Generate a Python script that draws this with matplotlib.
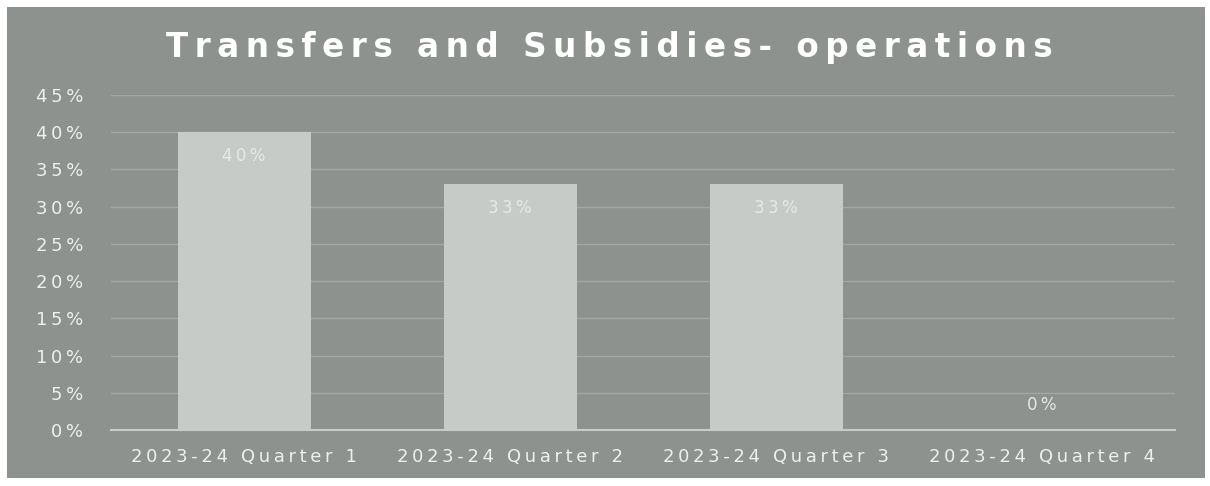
import matplotlib.pyplot as plt
from matplotlib.patches import Rectangle

quarters = ["2023-24 Quarter 1", "2023-24 Quarter 2", "2023-24 Quarter 3", "2023-24 Quarter 4"]
values = [40, 33, 33, 0]
labels = ["40%", "33%", "33%", "0%"]
y_ticks = [0, 5, 10, 15, 20, 25, 30, 35, 40, 45]
y_labels = ["0%", "5%", "10%", "15%", "20%", "25%", "30%", "35%", "40%", "45%"]
title = "Transfers and Subsidies- operations"

BG = "#8d928e"
BAR = "#c6cbc7"
TXT = "#eef0ee"

plt.rcParams['font.family'] = ['DejaVu Sans']


def spaced(s, gap="\u2009"):
    # the original has wide letter tracking
    return gap.join(s)


fig = plt.figure(figsize=(12.1, 4.86), dpi=100, facecolor="white")
fig.patches.append(Rectangle((7 / 1210, 1 - 478 / 486), 1198 / 1210, 471 / 486,
                             transform=fig.transFigure, facecolor=BG, edgecolor="none", zorder=-5))

ax = fig.add_axes([111 / 1210, 1 - 430 / 486, 1064 / 1210, 335 / 486])
ax.set_facecolor("none")

x = range(len(quarters))
bars = ax.bar(x, values, width=0.5, color=BAR, zorder=3)

for i, (v, lab) in enumerate(zip(values, labels)):
    ypos = v - 3.2 if v > 3 else v + 3.4
    ax.text(i, ypos, spaced(lab), ha="center", va="center",
            color="#e6eae6", fontsize=12, zorder=4)

ax.set_ylim(0, 45)
ax.set_xlim(-0.5, 3.5)
ax.set_yticks(y_ticks)
ax.set_yticklabels([spaced(t) for t in y_labels])
ax.set_xticks(list(x))
ax.set_xticklabels([spaced(q) for q in quarters])
ax.tick_params(axis="both", length=0, colors=TXT, labelsize=13)
ax.tick_params(axis="y", pad=20)
ax.tick_params(axis="x", pad=13)

ax.grid(axis="y", color="#a3a8a4", linewidth=1, zorder=1)
for s in ["top", "right", "left"]:
    ax.spines[s].set_visible(False)
ax.spines["bottom"].set_color("#c8ccc8")
ax.spines["bottom"].set_linewidth(1.5)
ax.spines["bottom"].set_zorder(4)

fig.text(609 / 1210, 1 - 48 / 486, spaced(title, "\u2009"),
         ha="center", va="center", color="white", fontsize=23.5, fontweight="bold")

fig.savefig("out.png", dpi=100, facecolor="white")
